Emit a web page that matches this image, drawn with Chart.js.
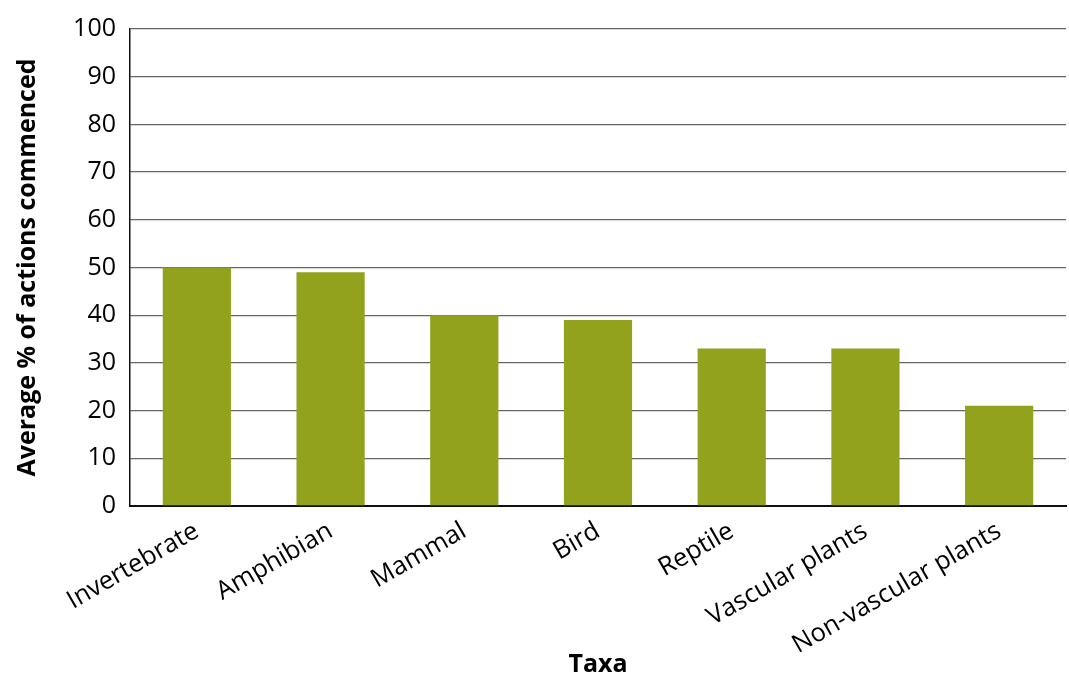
<!DOCTYPE html>
<html>
<head>
<meta charset="utf-8">
<script src="https://cdn.jsdelivr.net/npm/chart.js@4"></script>
<style>
  html, body { margin: 0; padding: 0; background: #fff; }
  #wrap { width: 1069px; height: 677px; position: relative; }
</style>
</head>
<body>
<div id="wrap"><canvas id="taxaChart"></canvas></div>
<script>
// categories and values
const taxa = ['Invertebrate', 'Amphibian', 'Mammal', 'Bird', 'Reptile', 'Vascular plants', 'Non-vascular plants'];
const avgCommenced = [50, 49, 40, 39, 33, 33, 21];
const yTicks = [0, 10, 20, 30, 40, 50, 60, 70, 80, 90, 100];

const barColor = '#92a21d';
const fontFam = '"Open Sans", "Liberation Sans", sans-serif';

new Chart(document.getElementById('taxaChart'), {
    type: 'bar',
    data: {
        labels: taxa,
        datasets: [{
            data: avgCommenced,
            backgroundColor: barColor,
            borderWidth: 0,
            categoryPercentage: 1,
            barPercentage: 0.51
        }]
    },
    options: {
        responsive: true,
        maintainAspectRatio: false,
        animation: false,
        layout: { padding: { top: 23, right: 3, left: 0, bottom: 0 } },
        plugins: {
            legend: { display: false },
            tooltip: { enabled: false }
        },
        scales: {
            x: {
                afterFit: function (axis) { axis.height = 171; },
                grid: { display: false, drawTicks: false },
                border: { color: '#111', width: 2 },
                ticks: {
                    color: '#000',
                    font: { family: fontFam, size: 25.5 },
                    maxRotation: 30,
                    minRotation: 30,
                    padding: 10
                },
                title: {
                    display: true,
                    text: 'Taxa',
                    color: '#000',
                    font: { family: fontFam, size: 25, weight: 'bold', lineHeight: 1 },
                    padding: { top: 0, bottom: 0 }
                }
            },
            y: {
                min: 0,
                max: 100,
                afterFit: function (axis) { axis.width = 130; },
                afterBuildTicks: function (axis) {
                    axis.ticks = yTicks.map(v => ({ value: v }));
                },
                grid: { color: '#666', lineWidth: 1.3, drawTicks: false },
                border: { color: '#111', width: 1.5 },
                ticks: {
                    color: '#000',
                    font: { family: fontFam, size: 25 },
                    padding: 14
                },
                title: {
                    display: true,
                    text: 'Average % of actions commenced',
                    color: '#000',
                    font: { family: fontFam, size: 25, weight: 'bold', lineHeight: 1 },
                    padding: { top: 15, bottom: 0 }
                }
            }
        }
    }
});
</script>
</body>
</html>
